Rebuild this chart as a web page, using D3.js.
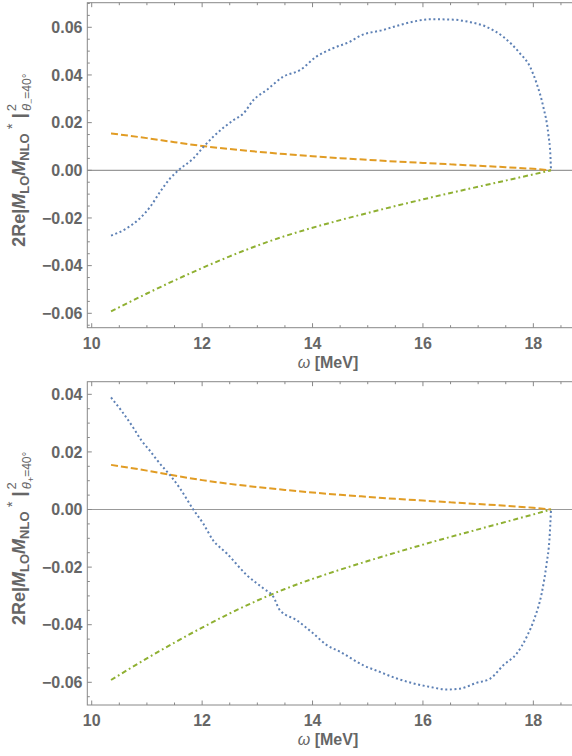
<!DOCTYPE html>
<html>
<head>
<meta charset="utf-8">
<script src="https://cdn.jsdelivr.net/npm/d3@7"></script>
<style>
  body { margin: 0; background: #fff; }
  svg { display: block; font-family: "Liberation Sans", Arial, sans-serif; }
</style>
</head>
<body>
<svg id="chart"></svg>
<script>
// omega grid for the orange and green curves (same in both panels)
const omegaLO = [10.35, 11, 11.5, 12, 12.5, 13, 13.5, 14, 14.5, 15, 15.5, 16, 16.5, 17, 17.5, 18, 18.32];
const orangeVals = [0.0155, 0.0135, 0.0118, 0.0102, 0.0089, 0.0078, 0.0068, 0.0059, 0.0051, 0.0044, 0.0037, 0.0031, 0.0025, 0.0019, 0.0013, 0.0006, 0];
const greenVals = [-0.0592, -0.0517, -0.0462, -0.0410, -0.0361, -0.0316, -0.0276, -0.0241, -0.0209, -0.0179, -0.0150, -0.0122, -0.0095, -0.0069, -0.0043, -0.0017, 0];

// blue curve, top panel (theta_-)
const omegaBlueTop = [10.35, 10.63, 10.87, 11.06, 11.24, 11.42, 11.57, 11.84, 12.02, 12.22, 12.57, 12.75, 12.93, 13.17, 13.47, 13.77, 14.07, 14.37, 14.68, 14.86, 15.28, 15.59, 15.89, 16.13, 16.55, 16.85, 17.16, 17.46, 17.76, 17.94, 18.06, 18.18, 18.27, 18.31, 18.32];
const blueTop = [-0.0274, -0.0244, -0.0202, -0.0153, -0.0090, -0.0034, 0, 0.0050, 0.0097, 0.0145, 0.0211, 0.0239, 0.0295, 0.0337, 0.0393, 0.0420, 0.0477, 0.0512, 0.0540, 0.0564, 0.0589, 0.0610, 0.0627, 0.0634, 0.0632, 0.0622, 0.0601, 0.0559, 0.0490, 0.0434, 0.0364, 0.0266, 0.0154, 0.0056, 0];

// blue curve, bottom panel (theta_+)
const omegaBlueBot = [10.35, 10.55, 10.75, 10.9, 11.05, 11.21, 11.42, 11.6, 11.84, 12.02, 12.2, 12.45, 12.81, 13.11, 13.29, 13.41, 13.71, 14.01, 14.26, 14.5, 14.92, 15.22, 15.53, 15.83, 16.13, 16.43, 16.67, 16.97, 17.22, 17.46, 17.7, 17.88, 18.03, 18.15, 18.24, 18.29, 18.32];
const blueBot = [0.0389, 0.0340, 0.0285, 0.0240, 0.0205, 0.0165, 0.0119, 0.0073, 0, -0.0049, -0.0107, -0.0153, -0.0228, -0.0274, -0.0303, -0.0350, -0.0384, -0.0430, -0.0471, -0.0494, -0.0541, -0.0564, -0.0587, -0.0604, -0.0616, -0.0625, -0.0622, -0.0602, -0.0587, -0.0540, -0.0500, -0.0442, -0.0373, -0.0292, -0.0188, -0.0107, 0];

const xTicks = [10, 12, 14, 16, 18];
const yTicksTop = [-0.06, -0.04, -0.02, 0, 0.02, 0.04, 0.06];
const yTicksBot = [-0.06, -0.04, -0.02, 0, 0.02, 0.04];

const W = 572, H = 756;
const gray = "#666";
const colors = { blue: "#5E81B5", orange: "#E19C24", green: "#8FB032" };

const svg = d3.select("#chart").attr("width", W).attr("height", H);

const x = d3.scaleLinear().domain([9.92, 18.70]).range([87.3, 572]);

function zip(xs, ys) { return xs.map((w, i) => ({ w: w, v: ys[i] })); }

function panel(top, bottom, yDomain, yTicks, blueW, blueV, sign) {
  const y = d3.scaleLinear().domain(yDomain).range([bottom, top]);
  const g = svg.append("g");

  // zero line
  g.append("line")
    .attr("x1", x.range()[0]).attr("x2", x.range()[1])
    .attr("y1", y(0)).attr("y2", y(0))
    .attr("stroke", "#999").attr("stroke-width", 1.2);

  const line = d3.line().x(d => x(d.w)).y(d => y(d.v)).curve(d3.curveMonotoneX);

  g.append("path").datum(zip(omegaLO, orangeVals))
    .attr("fill", "none").attr("stroke", colors.orange).attr("stroke-width", 2)
    .attr("stroke-dasharray", "7,3").attr("d", line);
  g.append("path").datum(zip(omegaLO, greenVals))
    .attr("fill", "none").attr("stroke", colors.green).attr("stroke-width", 2)
    .attr("stroke-dasharray", "5,3,1.8,3").attr("d", line);
  g.append("path").datum(zip(blueW, blueV))
    .attr("fill", "none").attr("stroke", colors.blue).attr("stroke-width", 2)
    .attr("stroke-dasharray", "2,2.6").attr("d", line);

  // frame
  g.append("rect")
    .attr("x", x.range()[0]).attr("y", top)
    .attr("width", x.range()[1] - x.range()[0] + 2).attr("height", bottom - top)
    .attr("fill", "none").attr("stroke", "#888").attr("stroke-width", 1);

  // x ticks (bottom and top, inward)
  const xMinor = d3.range(10, 18.51, 0.5);
  xMinor.forEach(t => {
    const len = xTicks.includes(t) ? 4.5 : 2.5;
    g.append("line").attr("x1", x(t)).attr("x2", x(t))
      .attr("y1", bottom).attr("y2", bottom - len).attr("stroke", "#888");
    g.append("line").attr("x1", x(t)).attr("x2", x(t))
      .attr("y1", top).attr("y2", top + len).attr("stroke", "#888");
  });

  // y ticks
  const yMinor = d3.range(-0.065, yDomain[1], 0.005).map(v => Math.round(v * 1000) / 1000)
    .filter(v => v >= yDomain[0] && v <= yDomain[1]);
  yMinor.forEach(t => {
    const major = yTicks.some(m => Math.abs(m - t) < 1e-6);
    g.append("line").attr("x1", x.range()[0]).attr("x2", x.range()[0] + (major ? 4.5 : 2.5))
      .attr("y1", y(t)).attr("y2", y(t)).attr("stroke", "#888");
  });

  const fmt = d3.format(".2f");
  g.selectAll(".ylab").data(yTicks).enter().append("text")
    .attr("x", 82.5).attr("y", d => y(d)).attr("dy", "0.36em")
    .attr("text-anchor", "end").attr("font-size", 16).attr("font-weight", "bold")
    .attr("fill", gray).text(d => fmt(d));

  g.selectAll(".xlab").data(xTicks).enter().append("text")
    .attr("x", d => x(d)).attr("y", bottom + 21)
    .attr("text-anchor", "middle").attr("font-size", 16).attr("font-weight", "bold")
    .attr("fill", gray).text(d => d);

  // x title
  const xt = g.append("text").attr("x", 328).attr("y", bottom + 40)
    .attr("text-anchor", "middle").attr("font-size", 16).attr("fill", gray);
  xt.append("tspan").attr("font-style", "italic").text("ω ");
  xt.append("tspan").attr("font-weight", "bold").text("[MeV]");

  // y title
  const yt = g.append("text")
    .attr("transform", `translate(25,${(top + bottom) / 2 - 5}) rotate(-90)`)
    .attr("text-anchor", "middle").attr("font-size", 18).attr("font-weight", "bold")
    .attr("fill", gray);
  yt.append("tspan").text("2Re|");
  yt.append("tspan").attr("font-style", "italic").text("M");
  yt.append("tspan").attr("font-size", 13).attr("dy", 4).text("LO");
  yt.append("tspan").attr("font-style", "italic").attr("dy", -4).text("M");
  yt.append("tspan").attr("font-size", 13).attr("dy", 4).text("NLO");
  yt.append("tspan").attr("font-size", 15).attr("font-weight", "normal").attr("dy", -12).text(" *");
  yt.append("tspan").attr("dy", 8).text(" |");
  yt.append("tspan").attr("font-size", 13).attr("font-weight", "normal").attr("dx", 2).attr("dy", -9).text("2");
  yt.append("tspan").attr("font-size", 13).attr("font-weight", "normal").attr("font-style", "italic")
    .attr("dx", -7).attr("dy", 15).text("θ");
  yt.append("tspan").attr("font-size", 9).attr("font-weight", "normal").attr("dy", 3).text(sign);
  yt.append("tspan").attr("font-size", 12).attr("font-weight", "normal").attr("dy", -3).text("=40°");
}

panel(2.7, 327.7, [-0.06604, 0.07032], yTicksTop, omegaBlueTop, blueTop, "−");
panel(381.7, 705, [-0.06788, 0.04438], yTicksBot, omegaBlueBot, blueBot, "+");
</script>
</body>
</html>
